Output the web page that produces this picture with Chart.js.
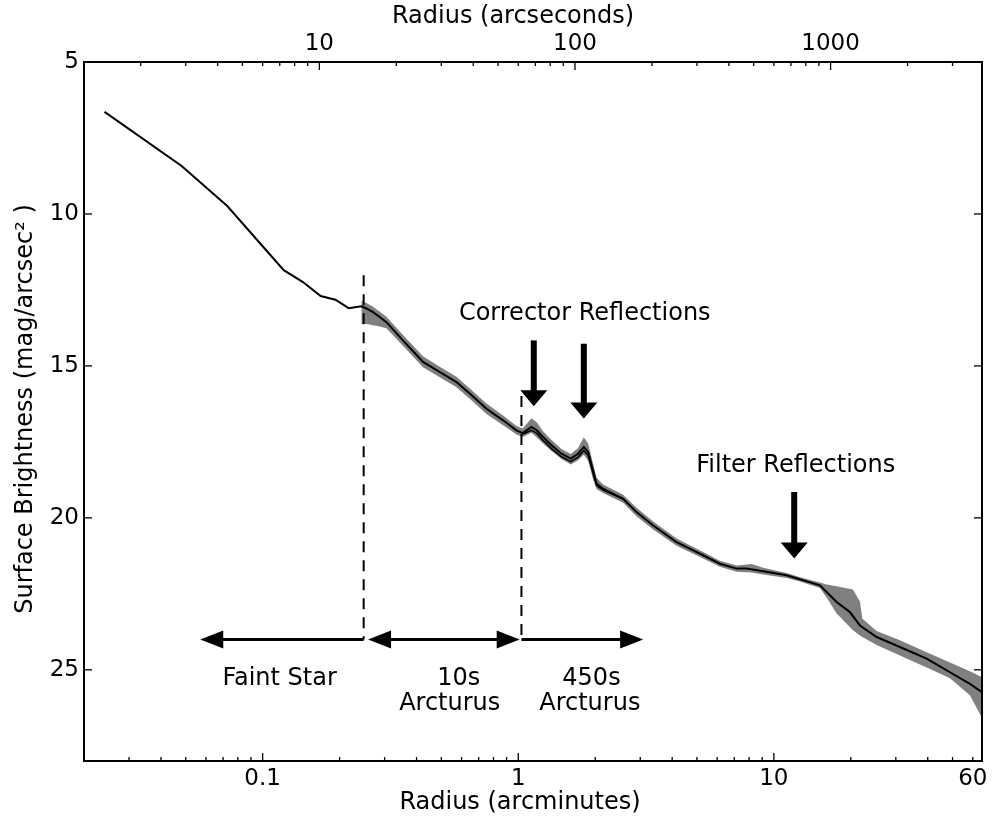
<!DOCTYPE html>
<html><head><meta charset="utf-8">
<script src="https://cdn.jsdelivr.net/npm/chart.js@4.4.0/dist/chart.umd.min.js"></script>
<style>html,body{margin:0;padding:0;background:#fff;overflow:hidden}</style>
</head><body>
<canvas id="c" width="993" height="824" style="display:block;width:993px;height:824px"></canvas>
<script>
// ---- data (radius in arcminutes, surface brightness in mag/arcsec^2) ----
const radiusArcmin = [0.02407,0.0482,0.0727,0.1209,0.1438,0.1686,0.1925,0.2171,0.2433,0.2545,0.2703,0.2870,0.3049,0.3539,0.4240,0.4929,0.5730,0.6458,0.7509,0.8721,0.9839,1.041,1.126,1.181,1.250,1.349,1.476,1.605,1.714,1.805,1.876,1.962,2.024,2.147,2.572,2.902,3.371,4.161,5.288,6.145,7.145,7.818,9.081,11.21,12.64,15.14,16.08,17.60,19.84,21.71,25.23,31.13,39.60,48.85,58.49,65.0];
const brightness = [6.64,8.42,9.74,11.85,12.24,12.70,12.82,13.10,13.04,13.11,13.23,13.39,13.56,14.16,14.87,15.20,15.53,15.91,16.41,16.79,17.12,17.21,17.01,17.12,17.34,17.61,17.89,18.05,17.89,17.67,17.83,18.44,18.87,19.04,19.37,19.81,20.25,20.80,21.23,21.51,21.67,21.67,21.76,21.89,22.02,22.22,22.44,22.77,23.10,23.54,23.92,24.25,24.63,25.08,25.46,25.73];

const bandRadius = [0.2433,0.2545,0.2703,0.2870,0.3049,0.3539,0.4240,0.4929,0.5730,0.6458,0.7509,0.8721,0.9839,1.041,1.126,1.181,1.250,1.349,1.476,1.605,1.714,1.805,1.876,1.962,2.024,2.147,2.572,2.902,3.371,4.161,5.288,6.145,7.145,8.18,9.081,11.21,12.64,15.14,16.08,17.60,20.38,21.71,22.2,25.23,31.13,39.60,48.85,58.49,65.0];
const bandBright = [12.85,12.93,13.05,13.22,13.38,13.98,14.68,15.03,15.36,15.74,16.24,16.63,16.98,17.06,16.72,16.85,17.15,17.44,17.73,17.90,17.70,17.35,17.55,18.22,18.68,18.90,19.24,19.67,20.12,20.68,21.12,21.41,21.57,21.52,21.64,21.81,21.95,22.13,22.19,22.25,22.36,22.75,23.32,23.72,24.03,24.42,24.76,25.05,25.24];
const bandFaint = [13.62,13.62,13.66,13.70,13.76,14.34,15.04,15.37,15.70,16.08,16.58,16.95,17.26,17.34,17.20,17.35,17.55,17.80,18.06,18.24,18.10,17.92,18.12,18.74,19.05,19.18,19.50,19.95,20.38,20.92,21.34,21.61,21.77,21.80,21.86,21.98,22.09,22.31,22.62,23.15,23.70,23.87,23.92,24.18,24.53,24.92,25.28,25.84,26.56];

const secondRadius = [1.041,1.126,1.181,1.250,1.349,1.476,1.605,1.714,1.805,1.876,1.962,2.024,2.147,2.572];
const secondBright = [17.25,17.12,17.22,17.45,17.72,17.99,18.15,18.00,17.79,17.94,18.53,18.94,19.09,19.38];

// ---- axes ----
const xMin = 0.02, xMax = 65.2, yMin = 5, yMax = 28;
const arcsecPerArcmin = 60;
const xTickValues = [0.1, 1, 10, 60];
const xMinorValues = [0.02,0.03,0.04,0.05,0.06,0.07,0.08,0.09,0.2,0.3,0.4,0.5,0.6,0.7,0.8,0.9,2,3,4,5,6,7,8,9,20,30,40,50,60];
const topTickValues = [10, 100, 1000];
const topMinorValues = [2,3,4,5,6,7,8,9,20,30,40,50,60,70,80,90,200,300,400,500,600,700,800,900,2000,3000];
const yTickValues = [5, 10, 15, 20, 25];
const xTitle = 'Radius (arcminutes)';
const xTopTitle = 'Radius (arcseconds)';
const yTitle = 'Surface Brightness (mag/arcsec² )';

// ---- annotations (data coordinates) ----
const dividerRadius = [0.2484, 1.029];
const dividerTop = [12.02, 15.99];
const dividerBottom = 24.0;
const rangeArrowY = 24.0;
const rangeArrows = [ // [from, to, headAtFrom, headAtTo]
  [0.2484, 0.057, false, true],
  [0.2585, 1.013, true, true],
  [1.029, 3.08, false, true]
];
const downArrows = [ // [radius, top mag, tip mag]
  [1.150, 14.16, 16.33],
  [1.805, 14.27, 16.73],
  [12.01, 19.15, 21.34]
];
const labels = [ // [text, radius (centre), mag (baseline)]
  ['Corrector Reflections', 1.82, 13.476],
  ['Filter Reflections', 12.18, 18.49],
  ['Faint Star', 0.1165, 25.49],
  ['10s', 0.585, 25.51],
  ['Arcturus', 0.5393, 26.31],
  ['450s', 1.934, 25.51],
  ['Arcturus', 1.905, 26.31]
];

const FONT = 'DejaVu Sans';
const pts = (xs, ys) => xs.map((v, i) => ({x: v, y: ys[i]}));

const decorations = {
  id: 'decorations',
  afterDatasetsDraw(chart) {
    const {ctx, chartArea: a, scales} = chart;
    const sx = scales.x, sy = scales.y, st = scales.xTop;
    ctx.save();
    // arrows
    ctx.fillStyle = '#000'; ctx.strokeStyle = '#000';
    const yA = sy.getPixelForValue(rangeArrowY);
    const hl = 23, hw = 9;
    rangeArrows.forEach(([f, t, hf, ht]) => {
      let p1 = sx.getPixelForValue(f), p2 = sx.getPixelForValue(t);
      const dir = Math.sign(p2 - p1);
      const s1 = hf ? p1 + dir * (hl - 1) : p1;
      const s2 = ht ? p2 - dir * (hl - 1) : p2;
      ctx.lineWidth = 3;
      ctx.beginPath(); ctx.moveTo(s1, yA); ctx.lineTo(s2, yA); ctx.stroke();
      const head = (tip, d) => {
        ctx.beginPath(); ctx.moveTo(tip, yA);
        ctx.lineTo(tip - d * hl, yA - hw); ctx.lineTo(tip - d * hl, yA + hw);
        ctx.closePath(); ctx.fill();
      };
      if (ht) head(p2, dir);
      if (hf) head(p1, -dir);
    });
    downArrows.forEach(([r, top, tip]) => {
      const px = sx.getPixelForValue(r);
      const y1 = sy.getPixelForValue(top), y2 = sy.getPixelForValue(tip);
      const L = 16, W = 13.5;
      ctx.fillRect(px - 3, y1, 6, y2 - y1 - L + 1);
      ctx.beginPath(); ctx.moveTo(px, y2); ctx.lineTo(px - W, y2 - L); ctx.lineTo(px + W, y2 - L);
      ctx.closePath(); ctx.fill();
    });
    // labels
    ctx.font = '24px "' + FONT + '"';
    ctx.textAlign = 'center'; ctx.textBaseline = 'alphabetic';
    labels.forEach(([t, r, m]) => ctx.fillText(t, sx.getPixelForValue(r), sy.getPixelForValue(m)));
    // axis titles
    ctx.textBaseline = 'middle';
    ctx.fillText(xTitle, 520, 803);
    ctx.fillText(xTopTitle, 513, 17);
    ctx.save(); ctx.translate(26, 409); ctx.rotate(-Math.PI / 2); ctx.fillText(yTitle, 0, 0); ctx.restore();
    // ticks
    ctx.lineWidth = 1.3;
    const line = (x1, y1, x2, y2) => { ctx.beginPath(); ctx.moveTo(x1, y1); ctx.lineTo(x2, y2); ctx.stroke(); };
    xTickValues.forEach(v => { if (v !== 60) { const p = sx.getPixelForValue(v); line(p, a.bottom, p, a.bottom - 8); } });
    xMinorValues.forEach(v => { const p = sx.getPixelForValue(v); line(p, a.bottom, p, a.bottom - 4); });
    topTickValues.forEach(v => { const p = st.getPixelForValue(v); line(p, a.top, p, a.top + 8); });
    topMinorValues.forEach(v => { const p = st.getPixelForValue(v); line(p, a.top, p, a.top + 4); });
    yTickValues.forEach(v => { const p = sy.getPixelForValue(v); line(a.left, p, a.left + 8, p); line(a.right, p, a.right - 8, p); });
    // frame
    ctx.lineWidth = 2;
    ctx.strokeRect(a.left, a.top, a.right - a.left, a.bottom - a.top);
    ctx.restore();
  }
};

const tickFont = {family: FONT, size: 23};

new Chart(document.getElementById('c'), {
  type: 'line',
  data: {
    datasets: [
      {data: pts(radiusArcmin, brightness), borderColor: '#000', borderWidth: 2, pointRadius: 0, fill: false, order: 0, tension: 0},
      {data: pts(secondRadius, secondBright), borderColor: '#000', borderWidth: 1.5, pointRadius: 0, fill: false, order: 1},
      {data: pts(bandRadius, bandBright), borderWidth: 0, borderColor: 'rgba(0,0,0,0)', pointRadius: 0, fill: false, order: 6},
      {data: pts(bandRadius, bandFaint), borderWidth: 0, borderColor: 'rgba(0,0,0,0)', backgroundColor: '#808080', pointRadius: 0, fill: '-1', order: 5},
      {data: [{x: dividerRadius[0], y: dividerTop[0]}, {x: dividerRadius[0], y: dividerBottom}], borderColor: '#000', borderWidth: 2, borderDash: [11, 8], pointRadius: 0, fill: false, order: 2},
      {data: [{x: dividerRadius[1], y: dividerTop[1]}, {x: dividerRadius[1], y: dividerBottom}], borderColor: '#000', borderWidth: 2, borderDash: [11, 8], pointRadius: 0, fill: false, order: 2}
    ]
  },
  options: {
    responsive: false, animation: false, devicePixelRatio: 1,
    layout: {padding: 0},
    plugins: {legend: {display: false}, tooltip: {enabled: false}},
    scales: {
      x: {
        type: 'logarithmic', position: 'bottom', min: xMin, max: xMax,
        grid: {display: false, drawTicks: false}, border: {display: false},
        afterBuildTicks: s => { s.ticks = xTickValues.map(v => ({value: v})); },
        afterFit: s => { s.height = 63; },
        ticks: {font: tickFont, color: '#000', padding: 4, autoSkip: false, maxRotation: 0, callback: v => String(v)}
      },
      xTop: {
        type: 'logarithmic', position: 'top', min: xMin * arcsecPerArcmin, max: xMax * arcsecPerArcmin,
        grid: {display: false, drawTicks: false}, border: {display: false},
        afterBuildTicks: s => { s.ticks = topTickValues.map(v => ({value: v})); },
        afterFit: s => { s.height = 62; },
        ticks: {font: tickFont, color: '#000', padding: 4, autoSkip: false, maxRotation: 0, callback: v => String(v)}
      },
      y: {
        type: 'linear', position: 'left', min: yMin, max: yMax, reverse: true,
        grid: {display: false, drawTicks: false}, border: {display: false},
        afterBuildTicks: s => { s.ticks = yTickValues.map(v => ({value: v})); },
        afterFit: s => { s.width = 84; },
        ticks: {font: tickFont, color: '#000', padding: 5, callback: v => String(v)}
      },
      y2: {
        type: 'linear', position: 'right', min: yMin, max: yMax, reverse: true,
        grid: {display: false, drawTicks: false}, border: {display: false},
        afterFit: s => { s.width = 11; },
        ticks: {display: false}
      }
    }
  },
  plugins: [decorations]
});
</script>
</body></html>
